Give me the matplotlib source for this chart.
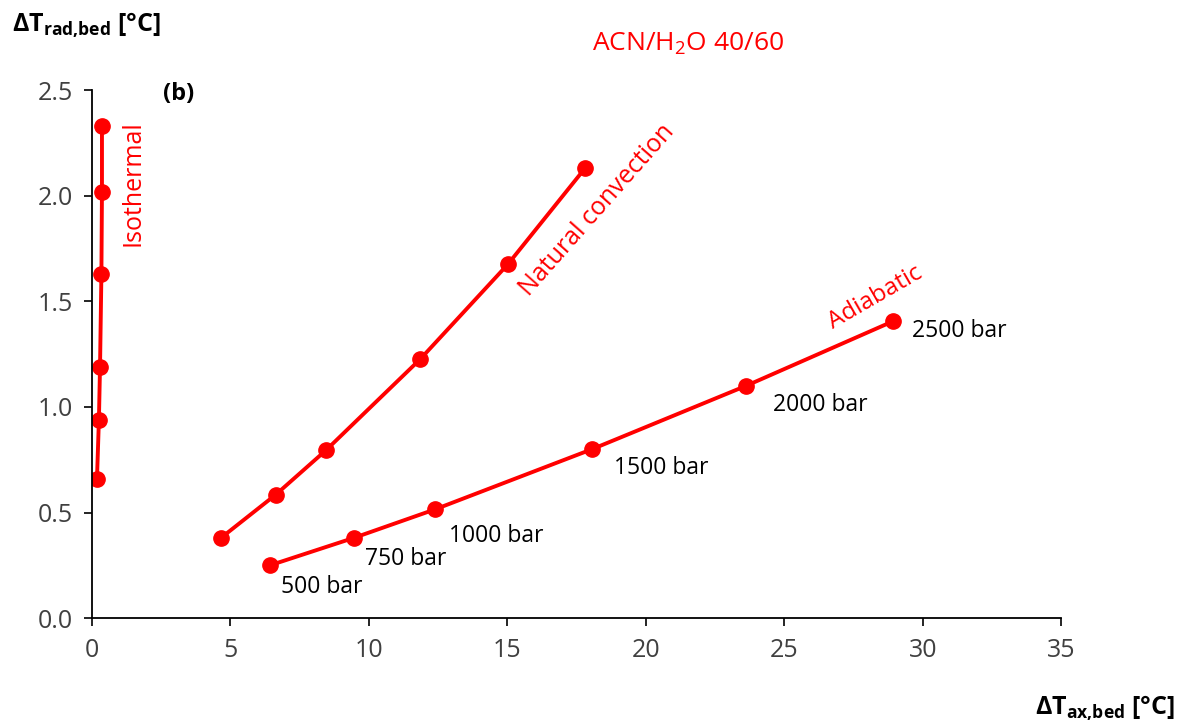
import matplotlib
matplotlib.use("Agg")
import matplotlib.pyplot as plt

plt.rcParams['font.family'] = ['Open Sans', 'DejaVu Sans']
plt.rcParams['mathtext.fontset'] = 'custom'
plt.rcParams['mathtext.rm'] = 'Open Sans'
plt.rcParams['mathtext.bf'] = 'Open Sans:bold'

# data
iso_x = [0.18, 0.25, 0.29, 0.34, 0.36, 0.36]
iso_y = [0.66, 0.94, 1.19, 1.63, 2.02, 2.33]

nat_x = [4.66, 6.64, 8.45, 11.85, 15.02, 17.8]
nat_y = [0.38, 0.585, 0.795, 1.226, 1.676, 2.13]

adi_x = [6.43, 9.46, 12.39, 18.06, 23.62, 28.93]
adi_y = [0.25, 0.38, 0.515, 0.80, 1.10, 1.406]
pressures = ['500 bar', '750 bar', '1000 bar', '1500 bar', '2000 bar', '2500 bar']
# label anchor positions (data coords)
p_lab_x = [6.83, 9.86, 12.9, 18.85, 24.6, 29.6]
p_lab_y = [0.147, 0.28, 0.39, 0.71, 1.01, 1.36]

red = '#ff0000'

fig = plt.figure(figsize=(11.87, 7.28), dpi=100)
ax = fig.add_axes([0.0775, 0.151, 0.8165, 0.725])

for xs, ys in [(iso_x, iso_y), (nat_x, nat_y), (adi_x, adi_y)]:
    ax.plot(xs, ys, color=red, lw=2.8, marker='o', ms=11, solid_capstyle='round')

for lab, x, y in zip(pressures, p_lab_x, p_lab_y):
    ax.text(x, y, lab, fontsize=16.5, color='black', ha='left', va='center')

ax.text(1.48, 2.06, 'Isothermal', color=red, fontsize=18, rotation=90,
        ha='center', va='center')
ax.text(18.24, 1.93, 'Natural convection', color=red, fontsize=18, rotation=48.5,
        ha='center', va='center', rotation_mode='anchor')
ax.text(28.3, 1.52, 'Adiabatic', color=red, fontsize=17.5, rotation=30,
        ha='center', va='center', rotation_mode='anchor')
ax.text(2.56, 2.48, '(b)', fontsize=17, fontweight='bold', ha='left', va='center')

ax.set_xlim(0, 35)
ax.set_ylim(0, 2.5)
ax.set_xticks(range(0, 36, 5))
ax.set_yticks([0, 0.5, 1.0, 1.5, 2.0, 2.5])
ax.set_yticklabels(['%.1f' % v for v in [0, 0.5, 1.0, 1.5, 2.0, 2.5]])
ax.tick_params(labelsize=18, colors='#404040', length=6, width=1.2, pad=8)
ax.tick_params(axis='both', color='black')
for s in ['top', 'right']:
    ax.spines[s].set_visible(False)
for s in ['left', 'bottom']:
    ax.spines[s].set_linewidth(1.3)
    ax.spines[s].set_color('black')

fig.text(0.58, 0.94, r'ACN/H$_2$O 40/60', color=red, fontsize=19,
         ha='center', va='center')
fig.text(0.01, 0.965, r'$\mathbf{\Delta T_{rad{,}bed}}$ [°C]', fontsize=18,
         fontweight='bold', ha='left', va='center')
fig.text(0.99, 0.027, r'$\mathbf{\Delta T_{ax{,}bed}}$ [°C]', fontsize=18,
         fontweight='bold', ha='right', va='center')

fig.savefig('out.png', dpi=100)
